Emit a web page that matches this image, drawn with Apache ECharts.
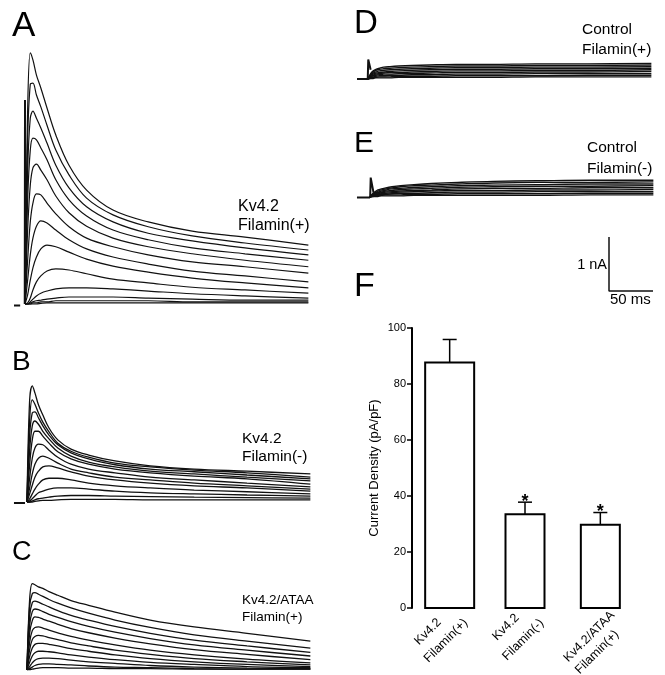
<!DOCTYPE html>
<html>
<head>
<meta charset="utf-8">
<script src="https://cdn.jsdelivr.net/npm/echarts@6/dist/echarts.min.js"></script>
<style>html,body{margin:0;padding:0;background:#fff;}#c{width:665px;height:675px;}</style>
</head>
<body>
<div id="c"></div>
<script>
// ---------- DATA (time in ms after step onset, current in nA) ----------
const tMs = [0, 3, 6, 9, 13, 18, 25, 35, 50, 70, 100, 140, 190, 250, 322];

// Panel A: Kv4.2 + Filamin(+)
const tracesA = [
  [0, 3.59, 4.65, 4.52, 4.24, 4.00, 3.63, 3.13, 2.57, 2.11, 1.74, 1.52, 1.35, 1.24, 1.09],
  [0, 3.04, 4.07, 4.09, 3.87, 3.65, 3.31, 2.85, 2.39, 1.96, 1.65, 1.43, 1.26, 1.13, 1.00],
  [0, 2.48, 3.44, 3.57, 3.44, 3.26, 2.98, 2.57, 2.15, 1.80, 1.52, 1.31, 1.17, 1.04, 0.91],
  [0, 1.93, 2.85, 3.07, 3.04, 2.89, 2.67, 2.30, 1.93, 1.63, 1.37, 1.19, 1.04, 0.93, 0.81],
  [0, 1.37, 2.20, 2.52, 2.59, 2.48, 2.30, 2.00, 1.69, 1.44, 1.22, 1.06, 0.93, 0.81, 0.69],
  [0, 0.81, 1.52, 1.87, 2.04, 2.02, 1.87, 1.67, 1.43, 1.22, 1.06, 0.91, 0.78, 0.69, 0.57],
  [0, 0.44, 0.91, 1.22, 1.44, 1.54, 1.50, 1.37, 1.19, 1.02, 0.87, 0.74, 0.61, 0.52, 0.41],
  [0, 0.17, 0.44, 0.67, 0.87, 1.02, 1.09, 1.06, 0.96, 0.83, 0.70, 0.59, 0.48, 0.39, 0.30],
  [0, 0.02, 0.11, 0.26, 0.41, 0.52, 0.61, 0.65, 0.63, 0.56, 0.46, 0.39, 0.31, 0.26, 0.20],
  [0, 0.00, 0.04, 0.09, 0.15, 0.20, 0.24, 0.28, 0.30, 0.30, 0.28, 0.24, 0.19, 0.15, 0.11],
  [0, 0.00, 0.02, 0.04, 0.06, 0.07, 0.09, 0.11, 0.13, 0.13, 0.13, 0.11, 0.09, 0.07, 0.07],
  [0, 0.00, 0.00, 0.02, 0.02, 0.04, 0.04, 0.06, 0.06, 0.06, 0.06, 0.06, 0.04, 0.04, 0.04],
  [0, 0.00, 0.00, 0.00, 0.00, 0.01, 0.02, 0.02, 0.02, 0.02, 0.02, 0.02, 0.02, 0.02, 0.02]
];
const transientA = [[-0.3, 0], [0, 3.78], [0.8, 0.4]];
const holdA = [[-12.5, -0.03], [-5.5, -0.03]];

// Panel B: Kv4.2 + Filamin(-)
const tracesB = [
  [0, 1.89, 2.15, 2.02, 1.80, 1.61, 1.37, 1.15, 0.98, 0.87, 0.76, 0.67, 0.61, 0.57, 0.52],
  [0, 1.52, 1.89, 1.81, 1.65, 1.48, 1.30, 1.09, 0.94, 0.83, 0.72, 0.65, 0.59, 0.54, 0.46],
  [0, 1.24, 1.65, 1.67, 1.56, 1.41, 1.24, 1.06, 0.91, 0.80, 0.69, 0.61, 0.56, 0.50, 0.43],
  [0, 0.96, 1.41, 1.50, 1.44, 1.31, 1.17, 1.00, 0.85, 0.74, 0.65, 0.57, 0.52, 0.46, 0.39],
  [0, 0.69, 1.15, 1.31, 1.31, 1.22, 1.09, 0.93, 0.80, 0.70, 0.61, 0.54, 0.48, 0.43, 0.33],
  [0, 0.44, 0.81, 1.00, 1.07, 1.06, 0.96, 0.83, 0.70, 0.61, 0.54, 0.46, 0.41, 0.35, 0.28],
  [0, 0.26, 0.52, 0.70, 0.81, 0.85, 0.81, 0.72, 0.61, 0.54, 0.46, 0.41, 0.35, 0.30, 0.24],
  [0, 0.15, 0.31, 0.46, 0.57, 0.65, 0.67, 0.63, 0.56, 0.48, 0.41, 0.35, 0.30, 0.26, 0.20],
  [0, 0.06, 0.15, 0.24, 0.33, 0.41, 0.44, 0.44, 0.41, 0.35, 0.30, 0.26, 0.22, 0.19, 0.15],
  [0, 0.02, 0.06, 0.11, 0.17, 0.20, 0.24, 0.26, 0.26, 0.24, 0.20, 0.17, 0.15, 0.13, 0.11],
  [0, 0.00, 0.02, 0.04, 0.06, 0.07, 0.09, 0.11, 0.12, 0.12, 0.11, 0.10, 0.09, 0.08, 0.07],
  [0, 0.00, 0.00, 0.01, 0.02, 0.03, 0.03, 0.04, 0.05, 0.05, 0.05, 0.04, 0.04, 0.04, 0.04]
];
const holdB = [[-14.8, -0.02], [-2.3, -0.02]];

// Panel C: Kv4.2/ATAA + Filamin(+)
const tracesC = [
  [0, 1.33, 1.63, 1.61, 1.57, 1.54, 1.48, 1.41, 1.31, 1.22, 1.09, 0.94, 0.81, 0.69, 0.54],
  [0, 1.20, 1.44, 1.46, 1.43, 1.39, 1.33, 1.26, 1.17, 1.07, 0.94, 0.80, 0.66, 0.54, 0.41],
  [0, 1.02, 1.27, 1.30, 1.28, 1.24, 1.19, 1.12, 1.03, 0.94, 0.82, 0.69, 0.56, 0.45, 0.33],
  [0, 0.85, 1.10, 1.15, 1.14, 1.10, 1.05, 0.99, 0.91, 0.82, 0.71, 0.59, 0.47, 0.37, 0.26],
  [0, 0.69, 0.93, 1.00, 0.99, 0.96, 0.92, 0.86, 0.78, 0.70, 0.60, 0.49, 0.38, 0.29, 0.19],
  [0, 0.52, 0.74, 0.80, 0.81, 0.79, 0.75, 0.70, 0.63, 0.56, 0.47, 0.37, 0.28, 0.20, 0.13],
  [0, 0.38, 0.57, 0.63, 0.65, 0.64, 0.61, 0.57, 0.51, 0.45, 0.37, 0.29, 0.21, 0.15, 0.09],
  [0, 0.25, 0.41, 0.48, 0.50, 0.50, 0.48, 0.45, 0.40, 0.35, 0.28, 0.21, 0.15, 0.10, 0.06],
  [0, 0.14, 0.26, 0.32, 0.35, 0.35, 0.34, 0.32, 0.28, 0.24, 0.19, 0.14, 0.10, 0.06, 0.04],
  [0, 0.06, 0.13, 0.18, 0.21, 0.22, 0.22, 0.21, 0.18, 0.15, 0.12, 0.08, 0.05, 0.03, 0.02],
  [0, 0.02, 0.05, 0.08, 0.10, 0.11, 0.11, 0.10, 0.09, 0.07, 0.05, 0.04, 0.02, 0.01, 0.01],
  [0, 0.00, 0.01, 0.02, 0.03, 0.04, 0.04, 0.04, 0.03, 0.03, 0.02, 0.02, 0.01, 0.01, 0.01]
];

// Panel D: Control + Filamin(+)
const tracesD = [
  [0, 0.10, 0.15, 0.18, 0.20, 0.22, 0.23, 0.24, 0.25, 0.26, 0.27, 0.27, 0.28, 0.28, 0.29],
  [0, 0.08, 0.13, 0.16, 0.18, 0.19, 0.20, 0.21, 0.22, 0.23, 0.24, 0.24, 0.25, 0.25, 0.26],
  [0, 0.07, 0.11, 0.13, 0.15, 0.16, 0.17, 0.18, 0.19, 0.20, 0.21, 0.21, 0.22, 0.22, 0.23],
  [0, 0.06, 0.09, 0.11, 0.12, 0.13, 0.14, 0.15, 0.16, 0.17, 0.18, 0.18, 0.19, 0.19, 0.20],
  [0, 0.05, 0.07, 0.09, 0.10, 0.11, 0.12, 0.12, 0.13, 0.14, 0.15, 0.15, 0.16, 0.16, 0.17],
  [0, 0.04, 0.06, 0.07, 0.08, 0.09, 0.09, 0.10, 0.10, 0.11, 0.12, 0.12, 0.13, 0.13, 0.14],
  [0, 0.03, 0.04, 0.05, 0.06, 0.06, 0.07, 0.07, 0.08, 0.08, 0.09, 0.09, 0.10, 0.10, 0.10],
  [0, 0.02, 0.03, 0.03, 0.04, 0.04, 0.04, 0.05, 0.05, 0.05, 0.06, 0.06, 0.06, 0.07, 0.07],
  [0, 0.01, 0.01, 0.02, 0.02, 0.02, 0.02, 0.03, 0.03, 0.03, 0.03, 0.03, 0.04, 0.04, 0.04]
];
const transientD = [[-0.3, 0], [0.3, 0.36], [3, 0.17]];
const holdD = [[-12.5, 0], [0, 0]];

// Panel E: Control + Filamin(-)
const tracesE = [
  [0, 0.06, 0.10, 0.13, 0.15, 0.17, 0.19, 0.21, 0.23, 0.25, 0.27, 0.29, 0.30, 0.31, 0.31],
  [0, 0.05, 0.08, 0.11, 0.13, 0.15, 0.17, 0.19, 0.21, 0.22, 0.24, 0.26, 0.27, 0.27, 0.28],
  [0, 0.04, 0.07, 0.09, 0.11, 0.13, 0.15, 0.16, 0.18, 0.19, 0.21, 0.22, 0.23, 0.24, 0.24],
  [0, 0.04, 0.06, 0.08, 0.09, 0.11, 0.12, 0.14, 0.15, 0.16, 0.18, 0.19, 0.20, 0.20, 0.21],
  [0, 0.03, 0.05, 0.06, 0.08, 0.09, 0.10, 0.11, 0.12, 0.13, 0.15, 0.16, 0.16, 0.17, 0.17],
  [0, 0.02, 0.04, 0.05, 0.06, 0.07, 0.08, 0.09, 0.10, 0.11, 0.12, 0.12, 0.13, 0.13, 0.14],
  [0, 0.02, 0.03, 0.04, 0.05, 0.05, 0.06, 0.07, 0.07, 0.08, 0.09, 0.09, 0.10, 0.10, 0.10],
  [0, 0.01, 0.02, 0.03, 0.03, 0.04, 0.04, 0.04, 0.05, 0.05, 0.06, 0.06, 0.06, 0.07, 0.07],
  [0, 0.01, 0.01, 0.01, 0.02, 0.02, 0.02, 0.02, 0.03, 0.03, 0.03, 0.03, 0.03, 0.04, 0.04]
];
const transientE = [[0.2, 0], [0.8, 0.36], [4, 0.08]];
const holdE = [[-14.8, -0.01], [0, -0.01]];

// Scale bar (1 nA, 50 ms)
const scaleBar = [[0, 1], [0, 0], [50, 0]];
const scaleLabels = ['1 nA', '50 ms'];

// Panel F: current density
const barCategories = ['Kv4.2\nFilamin(+)', 'Kv4.2\nFilamin(-)', 'Kv4.2/ATAA\nFilamin(+)'];
const barMeans = [87.7, 33.5, 29.7];
const barSems = [8.2, 4.3, 4.4];
const barSignificant = [false, true, true];
const yAxisMin = 0, yAxisMax = 100, yAxisStep = 20;
const yAxisTitle = 'Current Density (pA/pF)';

// ---------- LAYOUT ----------
const PX_MS = 0.88;   // pixels per ms (50 ms bar = 44 px)
const PX_NA = 54;     // pixels per nA (1 nA bar = 54 px)
const FONT = '"Liberation Sans", Arial, Helvetica, sans-serif';

function traceGrid(onsetX, baseY, tMin, tMax, iMin, iMax) {
  return { left: onsetX + tMin * PX_MS, top: baseY - iMax * PX_NA,
           width: (tMax - tMin) * PX_MS, height: (iMax - iMin) * PX_NA };
}
const panels = [
  { traces: tracesA, extra: [transientA, holdA], g: [25, 304, -15, 330, -0.2, 5.0], lw: 1.2 },
  { traces: tracesB, extra: [holdB], g: [27, 502, -16, 330, -0.2, 2.4], lw: 1.3 },
  { traces: tracesC, extra: [], g: [27, 672, -16, 330, -0.1, 1.9], lw: 1.3 },
  { traces: tracesD, extra: [transientD, holdD], g: [368, 79, -14, 330, -0.2, 0.5], lw: 1.4 },
  { traces: tracesE, extra: [transientE, holdE], g: [370, 197, -16, 330, -0.2, 0.5], lw: 1.4 }
];

const grids = [], xAxes = [], yAxes = [], series = [];
panels.forEach((p, k) => {
  const [ox, by, t0, t1, i0, i1] = p.g;
  grids.push(traceGrid(ox, by, t0, t1, i0, i1));
  xAxes.push({ type: 'value', gridIndex: k, min: t0, max: t1, show: false });
  yAxes.push({ type: 'value', gridIndex: k, min: i0, max: i1, show: false });
  p.traces.forEach(vals => {
    series.push({ type: 'line', xAxisIndex: k, yAxisIndex: k, data: tMs.map((t, j) => [t, vals[j]]),
      symbol: 'none', smooth: 0.35, silent: true, clip: false,
      lineStyle: { color: '#111', width: p.lw } });
  });
  p.extra.forEach(arr => {
    series.push({ type: 'line', xAxisIndex: k, yAxisIndex: k, data: arr,
      symbol: 'none', silent: true, clip: false,
      lineStyle: { color: '#111', width: 2 } });
  });
});

// scale bar grid (index 5)
grids.push({ left: 609, top: 237, width: 44, height: 54 });
xAxes.push({ type: 'value', gridIndex: 5, min: 0, max: 50, show: false });
yAxes.push({ type: 'value', gridIndex: 5, min: 0, max: 1, show: false });
series.push({ type: 'line', xAxisIndex: 5, yAxisIndex: 5, data: scaleBar, symbol: 'none', silent: true, clip: false,
  lineStyle: { color: '#111', width: 1.5 } });

// bar chart grid (index 6)
grids.push({ left: 412, top: 328, width: 226, height: 280 });
xAxes.push({ type: 'category', gridIndex: 6, data: barCategories,
  axisLine: { show: false }, axisTick: { show: false }, axisLabel: { show: false } });
yAxes.push({ type: 'value', gridIndex: 6, min: yAxisMin, max: yAxisMax, interval: yAxisStep,
  name: yAxisTitle, nameLocation: 'middle', nameGap: 31,
  nameTextStyle: { fontFamily: FONT, fontSize: 13, color: '#000' },
  axisLine: { show: true, lineStyle: { color: '#000', width: 2 } },
  axisTick: { show: true, length: 5, lineStyle: { color: '#000', width: 1.5 } },
  axisLabel: { color: '#000', fontFamily: FONT, fontSize: 11, margin: 6 },
  splitLine: { show: false } });

series.push({ type: 'custom', xAxisIndex: 6, yAxisIndex: 6,
  data: barMeans.map((m, i) => [i, m, barSems[i], barSignificant[i] ? 1 : 0]),
  renderItem: (params, api) => {
    const i = api.value(0), m = api.value(1), s = api.value(2), sig = api.value(3);
    const c0 = api.coord([i, 0]), c1 = api.coord([i, m]), c2 = api.coord([i, m + s]);
    const w = i === 0 ? 49 : 39;
    const kids = [
      { type: 'line', shape: { x1: c1[0], y1: c1[1], x2: c2[0], y2: c2[1] }, style: { stroke: '#000', lineWidth: 1.5 } },
      { type: 'line', shape: { x1: c2[0] - 7, y1: c2[1], x2: c2[0] + 7, y2: c2[1] }, style: { stroke: '#000', lineWidth: 1.5 } },
      { type: 'rect', shape: { x: c0[0] - w / 2, y: c1[1], width: w, height: c0[1] - c1[1] }, style: { fill: '#fff', stroke: '#000', lineWidth: 2 } }
    ];
    if (sig) kids.push({ type: 'text', style: { text: '*', x: c2[0], y: c2[1] + 9, textAlign: 'center', textVerticalAlign: 'bottom',
      font: 'bold 18px ' + FONT, fill: '#000' } });
    return { type: 'group', children: kids };
  }, silent: true });

function txt(s, x, y, size, align) {
  return { type: 'text', style: { text: s, x: x, y: y, textAlign: align || 'left', textVerticalAlign: 'middle',
    font: size + 'px ' + FONT, fill: '#000' }, silent: true };
}
const graphics = [
  txt('A', 12, 26, 35), txt('B', 12, 362, 28), txt('C', 12, 553, 27),
  txt('D', 354, 24, 33), txt('E', 354, 144, 30), txt('F', 354, 287, 34),
  txt('Kv4.2', 238, 207, 16), txt('Filamin(+)', 238, 226, 16),
  txt('Kv4.2', 242, 439, 15.5), txt('Filamin(-)', 242, 457, 15.5),
  txt('Kv4.2/ATAA', 242, 600, 13.5), txt('Filamin(+)', 242, 617, 13.5),
  txt('Control', 582, 30, 15.5), txt('Filamin(+)', 582, 50, 15.5),
  txt('Control', 587, 148, 15.5), txt('Filamin(-)', 587, 169, 15.5),
  txt(scaleLabels[0], 607, 265, 14.5, 'right'), txt(scaleLabels[1], 610, 300, 15)
];

const chart = echarts.init(document.getElementById('c'), null, { renderer: 'canvas' });
chart.setOption({
  backgroundColor: '#fff', animation: false,
  grid: grids, xAxis: xAxes, yAxis: yAxes, series: series, graphic: graphics
});

// Rotated category labels, anchored to each bar's position on the category axis
const labelOffsets = [
  [[-33, 35], [-23.5, 52.5]],
  [[-30.5, 30.5], [-20.5, 50.5]],
  [[-34.5, 52], [-23, 64]]
];
const catLabels = [];
barCategories.forEach((cat, i) => {
  const c = chart.convertToPixel({ xAxisIndex: 6, yAxisIndex: 6 }, [i, 0]);
  cat.split('\n').forEach((line, j) => {
    const o = labelOffsets[i][j];
    catLabels.push({ type: 'text', x: c[0] + o[0], y: c[1] + o[1], rotation: Math.PI / 4, silent: true,
      style: { text: line, font: '12.5px ' + FONT, fill: '#000', textAlign: 'left', textVerticalAlign: 'middle' } });
  });
});
chart.setOption({ graphic: graphics.concat(catLabels) });
</script>
</body>
</html>
